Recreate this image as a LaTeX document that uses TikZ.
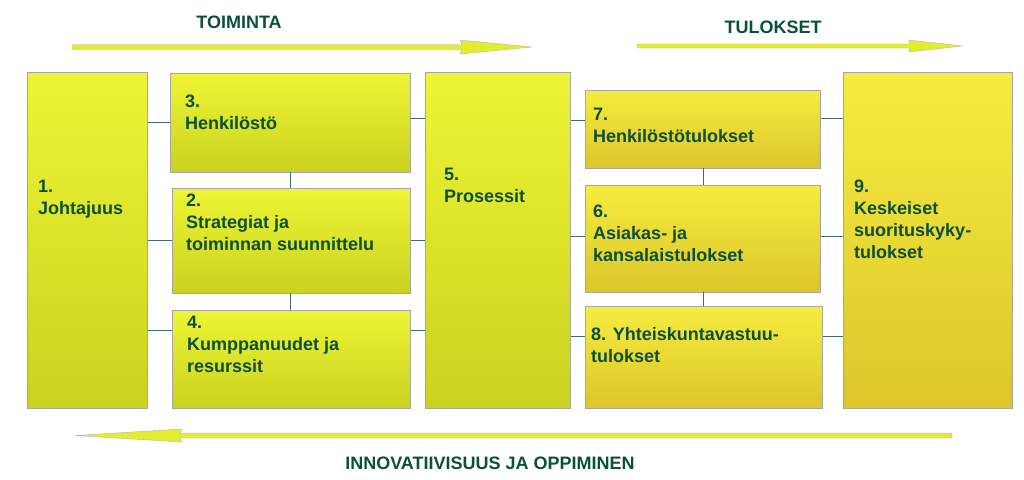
\documentclass[tikz,border=0pt]{standalone}
\usepackage{fontspec}
\setmainfont{Liberation Sans}
\usetikzlibrary{arrows.meta}
\definecolor{txt}{HTML}{0B4F3C}
\definecolor{lnk}{HTML}{3E6E6E}
\definecolor{gA}{HTML}{EEF535}
\definecolor{gB}{HTML}{C9D21E}
\definecolor{yA}{HTML}{F6EC3E}
\definecolor{yB}{HTML}{DCC62A}
\definecolor{arr}{HTML}{E4EC30}
\tikzset{
  box/.style={draw=black!35,line width=0.6pt,top color=gA,bottom color=gB,anchor=north west,inner sep=0pt},
  gbox/.style={draw=black!35,line width=0.6pt,top color=yA,bottom color=yB,anchor=north west,inner sep=0pt},
  lbl/.style={anchor=north west,align=left,font=\bfseries\fontsize{18}{22}\selectfont,text=txt,inner sep=0pt},
  lnkline/.style={draw=lnk,line width=0.7pt},
  bigarrow/.style={draw=black!30,fill=arr,line width=0.4pt},
  head/.style={font=\bfseries\fontsize{18}{20}\selectfont,text=txt}
}
\begin{document}
\begin{tikzpicture}[x=1pt,y=-1pt]
\useasboundingbox (0,0) rectangle (1024,479);
\node[box,minimum width=120,minimum height=336] (b1) at (27,72) {};
\node[box,minimum width=240,minimum height=99] (b3) at (170,73) {};
\node[box,minimum width=238,minimum height=105] (b2) at (172,188) {};
\node[box,minimum width=238,minimum height=98] (b4) at (172,310) {};
\node[box,minimum width=145,minimum height=336] (b5) at (425,72) {};
\node[gbox,minimum width=235,minimum height=78] (b7) at (585,90) {};
\node[gbox,minimum width=235,minimum height=107] (b6) at (585,185) {};
\node[gbox,minimum width=237,minimum height=102] (b8) at (585,306) {};
\node[gbox,minimum width=169,minimum height=336] (b9) at (843,72) {};
\node[lbl] (t1) at (38,180) {1.\\Johtajuus};
\node[lbl] (t3) at (185,95) {3.\\Henkilöstö};
\node[lbl] (t2) at (186,194) {2.\\Strategiat ja\\toiminnan suunnittelu};
\node[lbl] (t4) at (187,316) {4.\\Kumppanuudet ja\\resurssit};
\node[lbl] (t5) at (444,168) {5.\\Prosessit};
\node[lbl] (t7) at (593,108) {7.\\Henkilöstötulokset};
\node[lbl] (t6) at (593,205) {6.\\Asiakas- ja\\kansalaistulokset};
\node[lbl] (t8) at (591,327) {8. Yhteiskuntavastuu-\\tulokset};
\node[lbl] (t9) at (854,180) {9.\\Keskeiset\\suorituskyky-\\tulokset};
\draw[lnkline] (b1.east |- 0,122) -- (b3.west |- 0,122);
\draw[lnkline] (b1.east |- 0,240) -- (b2.west |- 0,240);
\draw[lnkline] (b1.east |- 0,330) -- (b4.west |- 0,330);
\draw[lnkline] (b3.east |- 0,118) -- (b5.west |- 0,118);
\draw[lnkline] (b2.east |- 0,240) -- (b5.west |- 0,240);
\draw[lnkline] (b4.east |- 0,330) -- (b5.west |- 0,330);
\draw[lnkline] (290,172) -- (290,188);
\draw[lnkline] (290,293) -- (290,310);
\draw[lnkline] (b5.east |- 0,120) -- (b7.west |- 0,120);
\draw[lnkline] (b5.east |- 0,236) -- (b6.west |- 0,236);
\draw[lnkline] (b5.east |- 0,336) -- (b8.west |- 0,336);
\draw[lnkline] (703,168) -- (703,185);
\draw[lnkline] (703,292) -- (703,306);
\draw[lnkline] (b7.east |- 0,118) -- (b9.west |- 0,118);
\draw[lnkline] (b6.east |- 0,236) -- (b9.west |- 0,236);
\draw[lnkline] (b8.east |- 0,336) -- (b9.west |- 0,336);
\draw[bigarrow] (72,44.5) -- (462,44.5) -- (460,40) -- (532,47) -- (460,54) -- (462,49.5) -- (72,49.5) -- cycle;
\draw[bigarrow] (637,44) -- (910,44) -- (909,40) -- (962,46) -- (909,52) -- (910,48) -- (637,48) -- cycle;
\draw[bigarrow] (952,433) -- (180,433) -- (182,429) -- (75,435.5) -- (182,442) -- (180,438) -- (952,438) -- cycle;
\node[head] (h1) at (239,22) {TOIMINTA};
\node[head] (h2) at (773,27) {TULOKSET};
\node[head] (h3) at (490,463) {INNOVATIIVISUUS JA OPPIMINEN};
\end{tikzpicture}
\end{document}
